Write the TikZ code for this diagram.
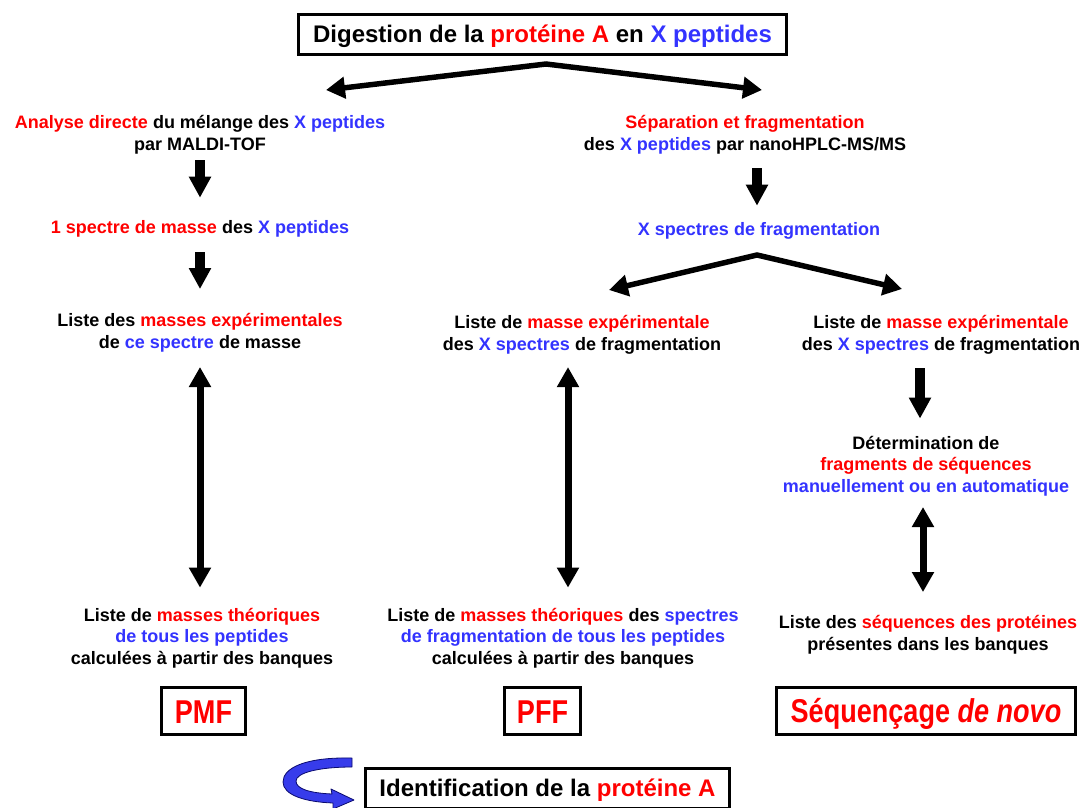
\documentclass[tikz,border=0pt]{standalone}
\usepackage{fontspec}
\setmainfont{Liberation Sans}
\usetikzlibrary{arrows.meta}
\definecolor{rouge}{RGB}{255,0,0}
\definecolor{bleu}{RGB}{51,51,255}
\definecolor{rubanfond}{RGB}{55,60,235}
\definecolor{rubanbord}{RGB}{10,10,110}
\newcommand{\rg}[1]{\textcolor{rouge}{#1}}
\newcommand{\bl}[1]{\textcolor{bleu}{#1}}
\tikzset{
  texte/.style={font=\bfseries\fontsize{13.5}{16.1}\selectfont, align=center, inner sep=0pt, anchor=base},
  titre/.style={draw, line width=2.25pt, font=\bfseries\fontsize{18}{21}\selectfont, inner sep=0pt, text height=12.75pt, text depth=0.75pt, minimum height=30pt},
  methode/.style={draw, line width=2.25pt, text=rouge, font=\bfseries\fontsize{24.75}{27}\selectfont, inner sep=0pt, text height=18pt, text depth=0pt, minimum height=35.25pt},
  fourche/.style={line width=4.1pt, line join=miter, {Triangle[width=15.75pt,length=14.25pt]}-{Triangle[width=15.75pt,length=14.25pt]}},
  descente/.style={line width=7.5pt, -{Triangle[width=15.75pt,length=15.75pt]}},
  lien/.style={line width=5.25pt, {Triangle[width=15.75pt,length=15pt]}-{Triangle[width=15.75pt,length=15pt]}},
  ruban/.style={fill=rubanfond, draw=rubanbord, line width=0.6pt, line join=round}
}
\begin{document}
\begin{tikzpicture}[x=0.75pt,y=0.75pt,yscale=-1,xscale=1]
\path[use as bounding box, fill=white] (0,0) rectangle (1085,807);

% Title Node
\node[titre, minimum width=366pt] (titre) at (542.5,34.5) {Digestion de la \rg{protéine A} en \bl{X peptides}};
% Text Node
\node[texte] (analyse) at (200,150) {\rg{Analyse directe} du mélange des \bl{X peptides}\\par MALDI-TOF};
% Text Node
\node[texte] (separation) at (745,150) {\rg{Séparation et fragmentation}\\des \bl{X peptides} par nanoHPLC-MS/MS};
% Text Node
\node[texte] (spectreUn) at (200,233) {\rg{1 spectre de masse} des \bl{X peptides}};
% Text Node
\node[texte] (spectresX) at (759,235) {\bl{X spectres de fragmentation}};
% Text Node
\node[texte] (listeExpL) at (200,348) {Liste des \rg{masses expérimentales}\\de \bl{ce spectre} de masse};
% Text Node
\node[texte] (listeExpM) at (582,350) {Liste de \rg{masse expérimentale}\\des \bl{X spectres} de fragmentation};
% Text Node
\node[texte] (listeExpR) at (941,350) {Liste de \rg{masse expérimentale}\\des \bl{X spectres} de fragmentation};
% Text Node
\node[texte] (determination) at (926,492) {Détermination de\\\rg{fragments de séquences}\\\bl{manuellement ou en automatique}};
% Text Node
\node[texte] (listeTheoL) at (202,664) {Liste de \rg{masses théoriques}\\\bl{de tous les peptides}\\calculées à partir des banques};
% Text Node
\node[texte] (listeTheoM) at (563,664) {Liste de \rg{masses théoriques} des \bl{spectres}\\\bl{de fragmentation de tous les peptides}\\calculées à partir des banques};
% Text Node
\node[texte] (listeSeq) at (928,650) {Liste des \rg{séquences des protéines}\\présentes dans les banques};
% Method Nodes
\node[methode, minimum width=63pt] (pmf) at (203.5,711) {\scalebox{0.82}[1]{PMF}};
\node[methode, minimum width=57pt] (pff) at (542.5,711) {\scalebox{0.82}[1]{PFF}};
\node[methode, minimum width=224.25pt] (denovo) at (926,710.5) {\scalebox{0.82}[1]{Séquençage \textit{de novo}}};
% Result Node
\node[titre, minimum width=273pt] (ident) at (547.5,788.5) {Identification de la \rg{protéine A}};

% Fork
\coordinate (sommetHaut) at (546,64);
\coordinate (versAnalyse) at (326,90);
\coordinate (versSeparation) at (762,90);
\draw[fourche] (versAnalyse) -- (sommetHaut) -- (versSeparation);
% Fork
\coordinate (sommetBas) at (757,255);
\coordinate (versListeM) at (609,290);
\coordinate (versListeR) at (902,289);
\draw[fourche] (versListeM) -- (sommetBas) -- (versListeR);
% Connection
\draw[descente, shorten <=4.5pt, shorten >=16.5pt] (analyse.south) -- (spectreUn.north);
% Connection
\draw[descente, shorten <=11.25pt, shorten >=18pt] (spectreUn.south) -- (listeExpL.north);
% Connection
\draw[descente, shorten <=10.5pt, shorten >=12pt] ([xshift=9pt]separation.south) -- ([xshift=-1.5pt]spectresX.north);
% Connection
\draw[descente, shorten <=10.5pt, shorten >=12.75pt] ([xshift=-15.75pt]listeExpR.south) -- ([xshift=-4.5pt]determination.north);
% Connection
\draw[lien, shorten <=11.25pt, shorten >=15pt] (listeExpL.south) -- ([xshift=-1.5pt]listeTheoL.north);
% Connection
\draw[lien, shorten <=9.75pt, shorten >=15pt] ([xshift=-10.5pt]listeExpM.south) -- ([xshift=3.75pt]listeTheoM.north);
% Connection
\draw[lien, shorten <=8.25pt, shorten >=17.25pt] ([xshift=-2.25pt]determination.south) -- ([xshift=-3.75pt]listeSeq.north);

% Curved arrow
\filldraw[ruban] (352,758) .. controls (305,757) and (283,768) .. (283,782)
  .. controls (283,795) and (305,802) .. (333,803) -- (333,809) -- (354,800) -- (331,789) -- (332,794)
  .. controls (310,793) and (296,789) .. (296,781) .. controls (296,773) and (318,767) .. (352,767) -- cycle;

\end{tikzpicture}
\end{document}
